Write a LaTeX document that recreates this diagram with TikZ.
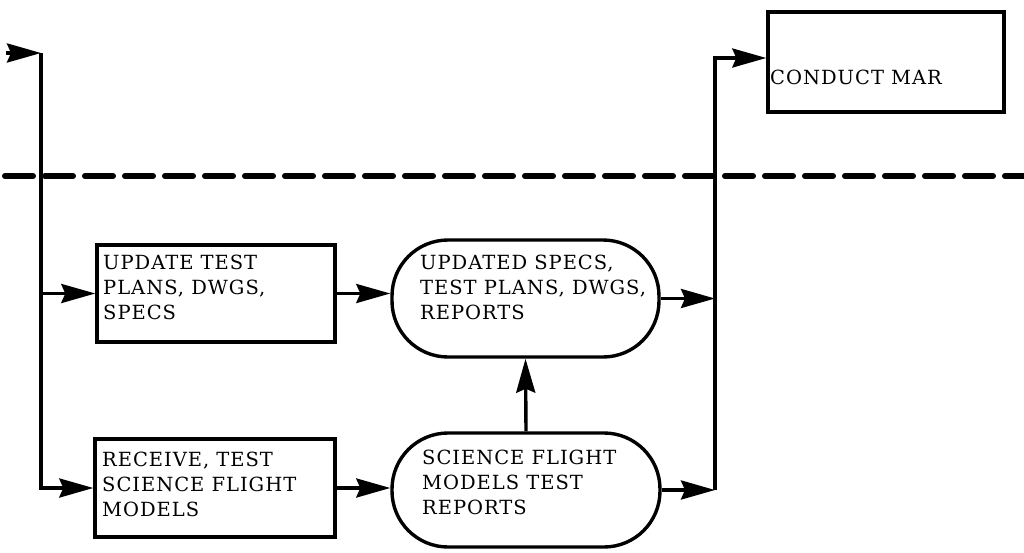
\documentclass[tikz,border=0pt]{standalone}
\usepackage{fontspec}
\setmainfont{DejaVu Serif}
\usetikzlibrary{arrows.meta}
% wide, letter-spaced caps used in every box
\newcommand\flowfont{\fontsize{19.5}{25}\selectfont\addfontfeatures{LetterSpace=5}}
\begin{document}
\begin{tikzpicture}[x=1pt,y=-1pt,
  box/.style={draw, line width=3.4pt, rectangle, inner sep=0pt},
  pill/.style={draw, line width=3.4pt, rectangle, inner sep=0pt, rounded corners=56pt},
  txt/.style={anchor=north west, inner sep=0pt, align=left, font=\flowfont},
  conn/.style={line width=3.4pt},
  arr/.style={conn, -{Stealth[length=34pt,width=19pt,inset=4pt]}},
  divider/.style={line width=6pt, dash pattern=on 28pt off 12pt, line cap=round}]
\useasboundingbox (0,0) rectangle (1024,552);

% boxes and their texts
\node[box, minimum width=238pt, minimum height=97pt] (upd) at (216,293.5) {};
\node[txt] (updT) at (103,255) {UPDATE TEST\\PLANS, DWGS,\\SPECS};
\node[box, minimum width=240pt, minimum height=98pt] (rcv) at (215,488) {};
\node[txt] (rcvT) at (102,452) {RECEIVE, TEST\\SCIENCE FLIGHT\\MODELS};
\node[pill, minimum width=267pt, minimum height=117pt] (docs) at (525.5,298.5) {};
\node[txt] (docsT) at (420,255) {UPDATED SPECS,\\TEST PLANS, DWGS,\\REPORTS};
\node[pill, minimum width=268pt, minimum height=114pt] (sfm) at (526,490) {};
\node[txt] (sfmT) at (422,450) {SCIENCE FLIGHT\\MODELS TEST\\REPORTS};
\node[box, minimum width=236pt, minimum height=100pt] (mar) at (886,62) {};
\node[txt] (marT) at (770,70) {CONDUCT MAR};

% bus lines and the phase divider
\coordinate (feed) at (6,53);
\coordinate (busL) at (41,53);
\coordinate (busR) at (715,58);
\coordinate (divA) at (5,176);
\coordinate (divB) at (1024,176);

\draw[divider] (divA) -- (divB);

\draw[arr] (feed) -- (busL);
\draw[arr] (busL) |- (rcv.west);
\draw[arr] (busL |- upd.west) -- (upd.west);

\draw[arr] (upd.east) -- (upd.east -| docs.west);
\draw[arr] (rcv.east) -- (rcv.east -| sfm.west);
\draw[arr] (sfm.north) -- (docs.south);

\draw[arr] (docs.east) -- (docs.east -| busR);
\draw[arr] (sfm.east) -- (sfm.east -| busR);
\draw[arr] (sfm.east -| busR) |- (mar.west |- busR);
\end{tikzpicture}
\end{document}
